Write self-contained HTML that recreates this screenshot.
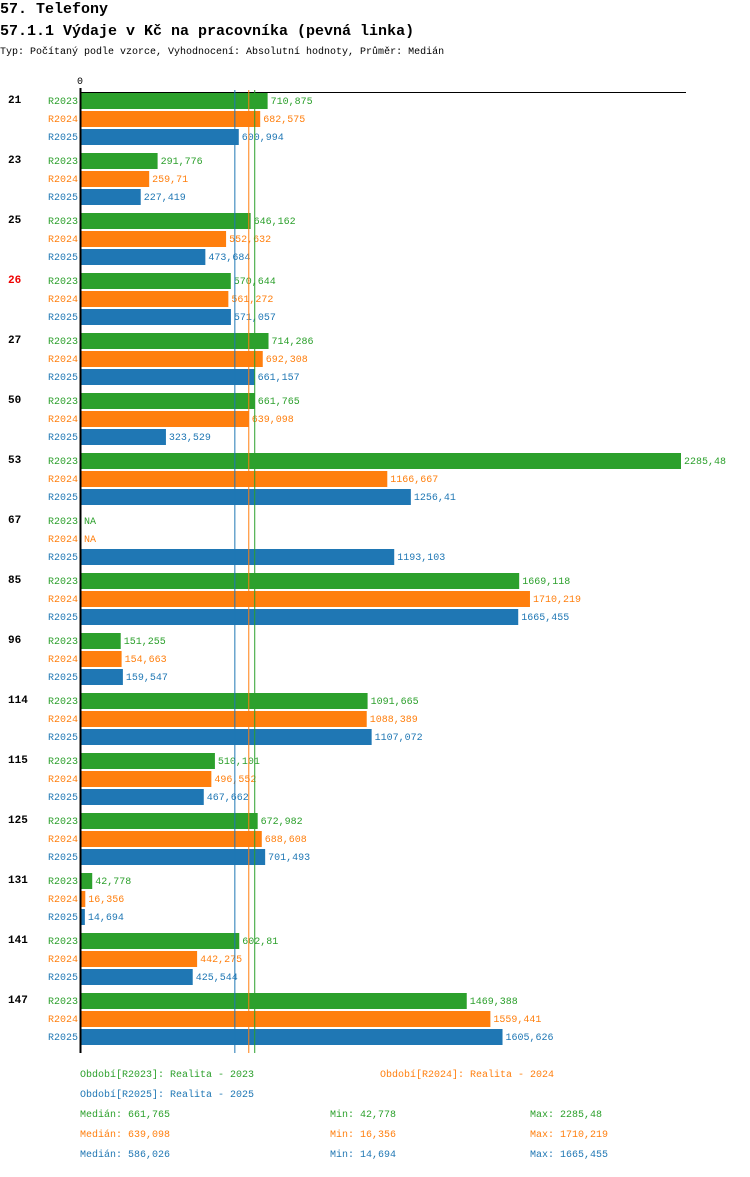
<!DOCTYPE html>
<html><head><meta charset="utf-8"><style>
body{margin:0;background:#fff;width:750px;height:1172px;overflow:hidden}
svg text{font-family:"Liberation Mono",monospace}
</style></head><body>
<svg id="chart" width="750" height="1172" xmlns="http://www.w3.org/2000/svg">
<text x="0" y="13" font-size="15" font-weight="bold">57. Telefony</text>
<text x="0" y="35" font-size="15" font-weight="bold">57.1.1 Výdaje v Kč na pracovníka (pevná linka)</text>
<text x="0" y="54" font-size="10">Typ: Počítaný podle vzorce, Vyhodnocení: Absolutní hodnoty, Průměr: Medián</text>
<g id="plot"></g>
<g id="legend"></g>
</svg>
<script>
const categories=["21","23","25","26","27","50","53","67","85","96","114","115","125","131","141","147"];
const highlight=["26"];
const seriesNames=["R2023","R2024","R2025"];
const r2023=[710.875,291.776,646.162,570.644,714.286,661.765,2285.48,null,1669.118,151.255,1091.665,510.101,672.982,42.778,602.81,1469.388];
const r2024=[682.575,259.71,552.632,561.272,692.308,639.098,1166.667,null,1710.219,154.663,1088.389,496.552,688.608,16.356,442.275,1559.441];
const r2025=[600.994,227.419,473.684,571.057,661.157,323.529,1256.41,1193.103,1665.455,159.547,1107.072,467.662,701.493,14.694,425.544,1605.626];
const medians=[661.765,639.098,586.026];
const mins=[42.778,16.356,14.694];
const maxs=[2285.48,1710.219,1665.455];
const legendLabels=["Období[R2023]: Realita - 2023","Období[R2024]: Realita - 2024","Období[R2025]: Realita - 2025"];
const colors=["#2ca02c","#ff7f0e","#1f77b4"];
const series=[r2023,r2024,r2025];
const NS="http://www.w3.org/2000/svg";
const X0=81,scale=600/2285.48;
const x=v=>X0+v*scale;
const gy=i=>92+i*60;
const fmt=v=>String(v).replace('.',',');
function mk(tag,attrs,parent){const e=document.createElementNS(NS,tag);for(const k in attrs)e.setAttribute(k,attrs[k]);parent.appendChild(e);return e;}
const plot=document.getElementById('plot');
let t=mk('text',{x:X0-4,y:84,'font-size':10},plot);t.textContent='0';


let l=mk('line',{x1:X0,x2:686,y1:92.5,y2:92.5,stroke:'#000','stroke-width':1},plot);


categories.forEach((c,i)=>{
  const ct=mk('text',{x:8,y:gy(i)+11,'font-size':11,'font-weight':'bold',fill:highlight.includes(c)?'#e00':'#000'},plot);
  ct.textContent=c;
  
  
  series.forEach((s,j)=>{
    const y=gy(i)+1+j*18;
    const lt=mk('text',{x:78,y:y+11,'font-size':10,'text-anchor':'end',fill:colors[j]},plot);
    lt.textContent=seriesNames[j];
    
    
    const v=s[i];
    if(v!=null){
      const r=mk('rect',{x:X0,y:y,width:x(v)-X0,height:16,fill:colors[j]},plot);
      
      
    }
    const vt=mk('text',{x:(v!=null?x(v):X0)+3,y:y+11,'font-size':10,fill:colors[j]},plot);
    vt.textContent=v!=null?fmt(v):'NA';
    
    
  });
});
medians.forEach((m,j)=>{
  const ml=mk('line',{x1:x(m),x2:x(m),y1:90,y2:1053,stroke:colors[j],'stroke-width':1},plot);
  
  
});
const ax=mk('line',{x1:X0-0.5,x2:X0-0.5,y1:88,y2:1053,stroke:'#000','stroke-width':2},plot);


const lg=document.getElementById('legend');
const lpos=[[80,1077],[380,1077],[80,1097]];
legendLabels.forEach((s,j)=>{
  const e=mk('text',{x:lpos[j][0],y:lpos[j][1],'font-size':10,fill:colors[j]},lg);
  e.textContent=s;
  
  
});
seriesNames.forEach((n,j)=>{
  const y=1117+j*20;
  [[80,'Medián: '+fmt(medians[j])],[330,'Min: '+fmt(mins[j])],[530,'Max: '+fmt(maxs[j])]].forEach(([xx,s])=>{
    const e=mk('text',{x:xx,y:y,'font-size':10,fill:colors[j]},lg);
    e.textContent=s;
    
    
  });
});
</script>
</body></html>
